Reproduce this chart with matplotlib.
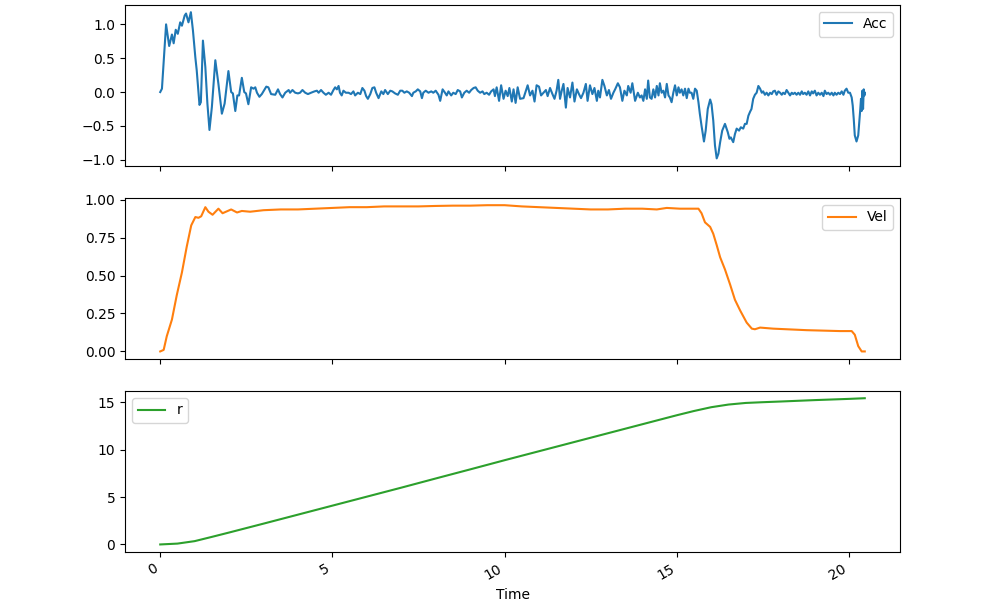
import matplotlib
matplotlib.use("Agg")
import matplotlib.pyplot as plt

# Acc
acc_time = [
    0.00, 0.05, 0.17, 0.26, 0.34, 0.39, 0.45, 0.51, 0.58, 0.63, 0.71, 0.75, 0.82, 0.89, 0.95,
    1.02, 1.06, 1.14, 1.18, 1.24, 1.31, 1.37, 1.43, 1.50, 1.60, 1.69, 1.79, 1.87, 1.98, 2.06,
    2.11, 2.18, 2.24, 2.29, 2.37, 2.44, 2.49, 2.56, 2.64, 2.71, 2.76, 2.81, 2.88, 2.95, 3.08,
    3.14, 3.22,
    3.34, 3.42, 3.48, 3.55, 3.63, 3.73, 3.77, 3.84, 3.92, 4.00, 4.06, 4.13, 4.21, 4.29, 4.38,
    4.48, 4.55, 4.60, 4.67, 4.74, 4.81, 4.89, 4.96, 5.03, 5.08, 5.13, 5.18, 5.22, 5.27, 5.32,
    5.39, 5.47, 5.54, 5.61, 5.66, 5.74, 5.81, 5.87, 5.93, 5.98, 6.03, 6.10, 6.16, 6.22, 6.27,
    6.34, 6.42, 6.48, 6.53, 6.61, 6.68, 6.74, 6.82, 6.90, 6.97,
    7.03, 7.09, 7.16, 7.23, 7.31, 7.35, 7.42, 7.48, 7.55, 7.60, 7.64, 7.71, 7.79, 7.87, 7.93,
    8.00, 8.08, 8.13, 8.20, 8.27, 8.32, 8.37, 8.45, 8.51, 8.58, 8.64, 8.71, 8.76, 8.83, 8.90,
    8.97, 9.03, 9.10, 9.16, 9.22, 9.29, 9.36, 9.41, 9.48, 9.55, 9.61, 9.68, 9.72, 9.77, 9.84,
    9.90, 9.97, 10.03, 10.09, 10.14, 10.21, 10.26, 10.32, 10.38, 10.45,
    10.55, 10.60, 10.67, 10.74, 10.81, 10.87, 10.93, 11.00, 11.06, 11.13, 11.20, 11.25, 11.32,
    11.39, 11.45, 11.51, 11.56, 11.61, 11.66, 11.71, 11.78, 11.83, 11.90, 11.97, 12.03, 12.10,
    12.16, 12.22, 12.29, 12.36, 12.41, 12.48, 12.55, 12.61, 12.68, 12.72, 12.77, 12.84, 12.90,
    12.97, 13.03, 13.09, 13.16, 13.21, 13.29, 13.35, 13.42, 13.48, 13.55, 13.59, 13.66, 13.71,
    13.79, 13.87, 13.93,
    13.98, 14.03, 14.08, 14.13, 14.17, 14.22, 14.27, 14.32, 14.37, 14.42, 14.47, 14.51, 14.56,
    14.61, 14.66, 14.71, 14.76, 14.80, 14.85, 14.90, 14.95, 15.00, 15.05, 15.09, 15.14, 15.19,
    15.24, 15.29, 15.34, 15.38, 15.43, 15.48, 15.53, 15.58, 15.63, 15.67, 15.72, 15.79, 15.84,
    15.90, 15.97, 16.01, 16.06, 16.11, 16.16, 16.21, 16.26, 16.32, 16.40, 16.48, 16.53, 16.57,
    16.64, 16.69, 16.74, 16.81, 16.86, 16.93, 16.98, 17.03, 17.08, 17.13, 17.17, 17.22, 17.27,
    17.32, 17.37, 17.42,
    17.47, 17.51, 17.56, 17.61, 17.66, 17.71, 17.76, 17.80, 17.85, 17.90, 17.95, 18.00, 18.05,
    18.09, 18.14, 18.19, 18.24, 18.29, 18.34, 18.38, 18.43, 18.48, 18.53, 18.58, 18.63, 18.67,
    18.72, 18.77, 18.82, 18.87, 18.92, 18.96, 19.01, 19.06, 19.11, 19.16, 19.21, 19.26, 19.30,
    19.35, 19.40, 19.45, 19.50, 19.55, 19.59, 19.64, 19.69, 19.74, 19.79, 19.84, 19.88, 19.93,
    19.98, 20.03, 20.08, 20.11, 20.14, 20.17, 20.22, 20.27, 20.30, 20.33, 20.35, 20.37, 20.39,
    20.41, 20.43, 20.45, 20.46,
]
acc = [
    0.00, 0.05, 1.00, 0.68, 0.85, 0.72, 0.92, 0.86, 1.03, 0.98, 1.13, 1.16, 1.03, 1.18, 0.91,
    0.51, 0.32, -0.19, -0.15, 0.76, 0.37, -0.17, -0.56, -0.22, 0.47, 0.12, -0.32, -0.17, 0.31, 0.00,
    -0.02, -0.28, -0.05, -0.05, 0.21, 0.00, -0.02, -0.18, 0.07, 0.05, 0.07, -0.01, -0.07, -0.03, 0.08,
    0.07, -0.03,
    -0.04, 0.04, -0.03, -0.08, -0.01, 0.03, -0.01, 0.03, -0.01, -0.02, -0.01, 0.03, -0.01, -0.03, -0.01,
    0.01, 0.02, -0.01, 0.03, -0.01, -0.04, -0.01, -0.04, 0.03, 0.07, 0.04, 0.09, -0.01, -0.05, 0.02,
    -0.01, -0.01, -0.03, 0.01, -0.05, -0.01, -0.03, 0.06, 0.02, -0.06, -0.10, -0.03, 0.06, 0.07, -0.01,
    -0.09, 0.01, -0.03, 0.03, -0.03, 0.02, 0.01, -0.02, -0.04, 0.02,
    0.02, -0.01, 0.01, -0.01, -0.06, -0.01, 0.01, 0.04, 0.01, -0.09, -0.01, 0.02, -0.01, 0.01, -0.01,
    0.02, -0.04, -0.13, 0.04, -0.01, -0.05, 0.01, -0.05, -0.01, -0.03, 0.03, 0.01, -0.08, -0.01, 0.02,
    -0.01, 0.03, 0.06, 0.07, 0.02, -0.01, 0.01, -0.03, -0.01, -0.04, 0.01, 0.04, -0.06, 0.07, -0.13,
    0.10, -0.10, 0.02, -0.06, 0.06, -0.14, 0.04, -0.16, 0.07, -0.10,
    -0.09, -0.01, 0.10, -0.05, 0.02, -0.14, 0.10, 0.08, -0.05, -0.01, 0.03, -0.06, 0.06,
    -0.03, -0.10, 0.02, 0.18, -0.10, 0.02, 0.12, -0.23, 0.06, -0.08, 0.14, -0.14, 0.04,
    -0.03, -0.09, -0.01, 0.12, -0.13, 0.10, -0.03, 0.06, -0.13, 0.02, -0.08, 0.18, 0.09,
    -0.05, 0.03, -0.10, -0.01, 0.04, 0.13, 0.07, -0.13, 0.02, -0.05, 0.09, -0.01, 0.13,
    -0.13, -0.01, -0.08,
    -0.05, -0.13, 0.04, -0.10, 0.17, -0.08, -0.10, 0.04, -0.08, 0.09, -0.05, 0.13, -0.01,
    0.02, -0.08, 0.12, -0.05, -0.08, -0.15, -0.01, 0.10, -0.05, 0.07, -0.01, 0.04, -0.05,
    0.05, -0.09, 0.05, -0.01, -0.01, -0.10, 0.05, 0.02, -0.15, -0.32, -0.50, -0.73, -0.57,
    -0.25, -0.11, -0.18, -0.42, -0.79, -0.98, -0.91, -0.74, -0.57, -0.47, -0.59, -0.69, -0.67,
    -0.74, -0.62, -0.54, -0.57, -0.52, -0.54, -0.47, -0.47, -0.35, -0.29, -0.25, -0.10, -0.04,
    -0.01, 0.09, 0.05,
    -0.01, 0.01, -0.04, -0.01, -0.05, -0.01, -0.03, 0.01, 0.02, -0.04, 0.01, -0.01, -0.04,
    -0.01, -0.03, 0.03, -0.01, -0.05, -0.01, -0.03, -0.01, -0.04, -0.01, -0.04, 0.01, -0.03,
    -0.01, -0.04, 0.01, -0.05, 0.01, -0.02, 0.02, -0.05, -0.01, -0.04, -0.01, -0.06, 0.02,
    -0.03, -0.01, -0.04, -0.01, -0.05, -0.01, -0.04, -0.01, -0.03, 0.01, -0.04, 0.02, 0.05,
    -0.01, -0.01, -0.08, -0.20, -0.40, -0.64, -0.73, -0.64, -0.45, -0.25, -0.10, -0.28, 0.02,
    -0.25, 0.04, -0.05, -0.01,
]

# Vel
vel_time = [0.00, 0.10, 0.19, 0.34, 0.48, 0.63, 0.77, 0.90, 1.02, 1.11, 1.19, 1.31, 1.40, 1.52,
            1.69, 1.81, 2.06, 2.23, 2.37, 2.61, 3.0, 3.5, 4.0, 4.5, 5.0, 5.5, 6.0, 6.5, 7.0,
            7.5, 8.0, 8.5, 9.0, 9.5, 10.0, 10.5, 11.0, 11.5, 12.0, 12.5, 13.0, 13.5, 14.0,
            14.42, 14.71, 15.09, 15.63, 15.72, 15.82, 15.97, 16.06, 16.16, 16.26, 16.40, 16.55,
            16.69, 16.84, 17.03, 17.18, 17.27, 17.42, 17.80, 18.77, 19.74, 20.08, 20.17, 20.27,
            20.37, 20.46]
vel = [0.00, 0.01, 0.10, 0.21, 0.37, 0.52, 0.69, 0.83, 0.885, 0.88, 0.89, 0.95, 0.92, 0.90,
       0.94, 0.91, 0.935, 0.915, 0.925, 0.92, 0.93, 0.935, 0.935, 0.94, 0.945, 0.95, 0.95,
       0.955, 0.955, 0.955, 0.958, 0.96, 0.96, 0.963, 0.963, 0.955, 0.95, 0.945, 0.94, 0.935,
       0.935, 0.94, 0.94, 0.935, 0.945, 0.94, 0.94, 0.91, 0.85, 0.82, 0.775, 0.70, 0.62, 0.54,
       0.44, 0.34, 0.27, 0.19, 0.15, 0.146, 0.157, 0.15, 0.14, 0.134, 0.134, 0.11, 0.035,
       0.00, 0.00]

# r
r_time = [0.0, 0.5, 1.0, 1.5, 2.0, 3.0, 4.0, 5.0, 6.0, 7.0, 8.0, 9.0, 10.0, 11.0, 12.0, 13.0,
          14.0, 15.0, 15.5, 16.0, 16.5, 17.0, 17.5, 18.0, 19.0, 20.0, 20.46]
r = [0.0, 0.09, 0.35, 0.8, 1.26, 2.2, 3.15, 4.1, 5.05, 6.0, 6.97, 7.93, 8.9, 9.85, 10.8, 11.75,
     12.7, 13.65, 14.1, 14.5, 14.78, 14.95, 15.03, 15.1, 15.25, 15.38, 15.45]

fig, axes = plt.subplots(3, 1, sharex=True, figsize=(10, 6.07))
fig.subplots_adjust(left=0.125, right=0.9, top=0.992, bottom=0.091, hspace=0.2)

axes[0].plot(acc_time, acc, color="C0", label="Acc")
axes[0].legend(loc="upper right")

axes[1].plot(vel_time, vel, color="C1", label="Vel")
axes[1].legend(loc="upper right")

axes[2].plot(r_time, r, color="C2", label="r")
axes[2].legend(loc="upper left")
axes[2].set_xlabel("Time")

for lbl in axes[2].get_xticklabels():
    lbl.set_rotation(30)
    lbl.set_ha("right")

plt.savefig("out.png", dpi=100)
